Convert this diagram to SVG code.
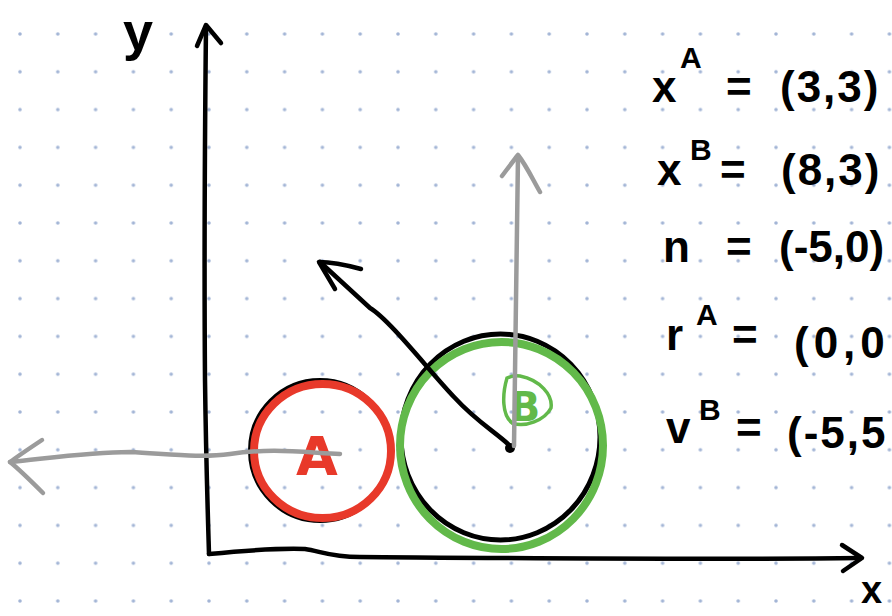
<svg xmlns="http://www.w3.org/2000/svg" width="892" height="616" viewBox="0 0 892 616">
  <style>
    .ink { fill: none; stroke: #000; stroke-width: 4.5; stroke-linecap: round; stroke-linejoin: round; }
    .gray { fill: none; stroke: #9b9b9b; stroke-width: 4.5; stroke-linecap: round; stroke-linejoin: round; }
    .hand { font-family: "Liberation Sans", Arial, sans-serif; font-weight: bold; fill: #000; }
    .val { letter-spacing: 2px; }
  </style>
  <defs>
    <pattern id="dots" x="1.1" y="15.1" width="37.8" height="37.8" patternUnits="userSpaceOnUse">
      <circle cx="18.9" cy="18.9" r="1.8" fill="#a3b5d6"/>
    </pattern>
  </defs>
  <rect width="892" height="616" fill="#fff"/>
  <rect width="892" height="616" fill="url(#dots)"/>

  <g id="axes">
    <path class="ink" d="M206,26 C205,120 204,250 205,380 C206,460 208,520 209,554"/>
    <path class="ink" d="M197,46 L206,25 L221,43"/>
    <path class="ink" d="M209,554 C240,551 280,548 305,549 C320,551 330,557 360,557 C500,558 700,560 861,558"/>
    <path class="ink" d="M842,545 L862,558 L843,571"/>
  </g>

  <g id="circle-A">
    <ellipse cx="320" cy="450.5" rx="70" ry="70.5" fill="none" stroke="#000" stroke-width="4"/>
    <ellipse cx="322.5" cy="451" rx="68.5" ry="67" fill="none" stroke="#e8392a" stroke-width="8"/>
    <text x="317" y="475" text-anchor="middle" font-family="DejaVu Sans, sans-serif" font-weight="bold" font-size="54" fill="#e8392a">A</text>
  </g>

  <g id="circle-B">
    <ellipse cx="500.5" cy="437" rx="99.5" ry="103" fill="none" stroke="#000" stroke-width="5"/>
    <ellipse cx="501.5" cy="445.5" rx="101.5" ry="103.5" fill="none" stroke="#62b94a" stroke-width="8"/>
    <path d="M507,378 C502,395 502,415 512,423 C525,428 545,420 551,408 C553,395 540,380 520,376 C513,375 509,377 507,378 Z" fill="none" stroke="#62b94a" stroke-width="3.5"/>
    <text x="525" y="421" text-anchor="middle" font-family="DejaVu Sans, sans-serif" font-weight="bold" font-size="40" fill="#62b94a">B</text>
    <circle cx="510" cy="448" r="5" fill="#000"/>
  </g>

  <g id="connectors">
    <path class="ink" d="M508,444 C495,432 475,420 455,398 C430,372 390,320 370,308 L320,262"/>
    <path class="ink" d="M335,289 L319,262 C330,262 350,266 361,269" stroke-width="6"/>
    <path class="gray" d="M514,446 L516,300 L518,156"/>
    <path class="gray" d="M502,176 C508,168 514,160 518,155 C526,165 532,178 540,192" stroke-width="5"/>
    <path class="gray" d="M340,454 C300,452 270,448 230,454 C200,458 170,454 130,452 C90,452 50,458 10,462"/>
    <path class="gray" d="M42,440 C30,448 18,456 10,462 C20,470 32,482 43,493" stroke-width="5"/>
  </g>

  <g id="labels">
    <text class="hand" x="123" y="50" font-size="54">y</text>
    <text class="hand" x="861" y="603" font-size="38">x</text>

    <text class="hand" font-size="44">
      <tspan x="652" y="102">x</tspan><tspan x="680" y="68" font-size="30">A</tspan><tspan x="726" y="102">=</tspan><tspan class="val" x="780" y="102">(3,3)</tspan>
    </text>
    <text class="hand" font-size="44">
      <tspan x="657" y="185">x</tspan><tspan x="690" y="160" font-size="30">B</tspan><tspan x="720" y="185">=</tspan><tspan class="val" x="781" y="185">(8,3)</tspan>
    </text>
    <text class="hand" font-size="44">
      <tspan x="663" y="262">n</tspan><tspan x="726" y="262">=</tspan><tspan x="779" y="262">(-5,0)</tspan>
    </text>
    <text class="hand" font-size="44">
      <tspan x="666" y="350">r</tspan><tspan x="696" y="325" font-size="30">A</tspan><tspan x="732" y="350">=</tspan><tspan class="val" x="794" y="358" style="letter-spacing:5px">(0,0</tspan>
    </text>
    <text class="hand" font-size="44">
      <tspan x="666" y="443">v</tspan><tspan x="699" y="420" font-size="30">B</tspan><tspan x="736" y="443">=</tspan><tspan class="val" x="787" y="448">(-5,5</tspan>
    </text>
  </g>
</svg>
